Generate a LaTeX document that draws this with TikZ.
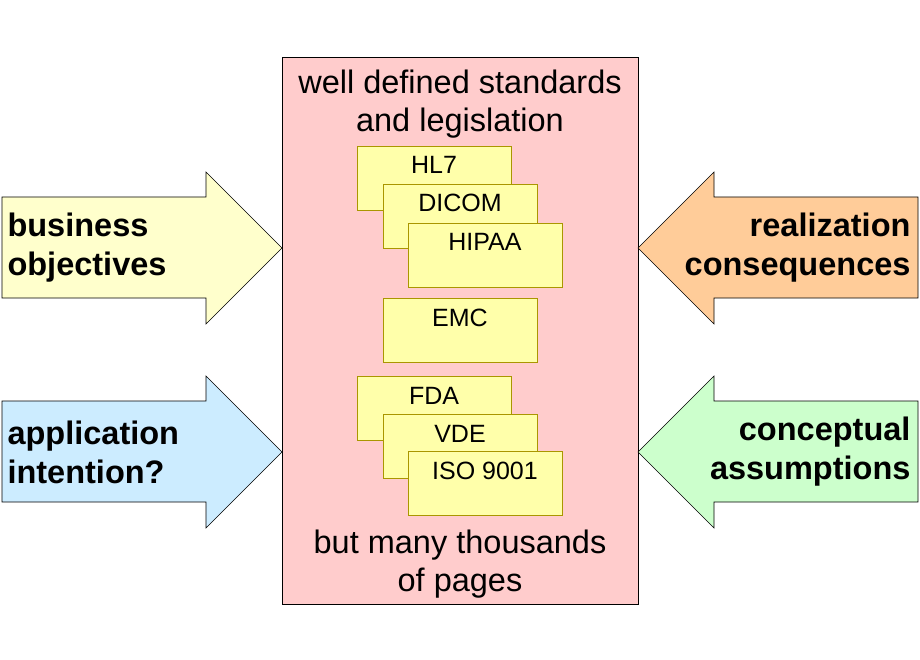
\documentclass[tikz,border=0pt]{standalone}
\usepackage{fontspec}
\setmainfont{Liberation Sans}
\usepackage{tikz}

\definecolor{stdpink}{RGB}{255,204,204}
\definecolor{docyellow}{RGB}{255,255,170}
\definecolor{docedge}{RGB}{170,150,0}
\definecolor{bizyellow}{RGB}{255,255,204}
\definecolor{appblue}{RGB}{204,236,255}
\definecolor{realorange}{RGB}{255,204,153}
\definecolor{conceptgreen}{RGB}{204,255,204}

\begin{document}
\begin{tikzpicture}[
    x=1pt, y=-1pt,
    doc/.style={
        draw=docedge,
        fill=docyellow,
        line width=0.6pt
    },
    doclabel/.style={
        font=\fontsize{25}{28}\selectfont,
        anchor=base
    },
    bigarrow/.style={
        draw=black,
        line width=0.6pt
    },
    arrowtext/.style={
        font=\fontsize{32.5}{39}\selectfont\bfseries,
        align=left
    },
    stdtext/.style={
        font=\fontsize{32.5}{38}\selectfont,
        align=center
    }
]
\useasboundingbox (0,0) rectangle (920,660);

% Standards block
\draw[fill=stdpink, line width=0.6pt] (282,57) rectangle (638,604);
\node[stdtext] (title) at (460,104) {well defined standards\\and legislation};
\node[stdtext] (pages) at (460,564) {but many thousands\\of pages};

% Documents
\foreach \name/\xa/\ya/\txt in {hl7/357/146/HL7, dicom/383/184/DICOM, hipaa/408/223/HIPAA,
                               emc/383/298/EMC,
                               fda/357/376/FDA, vde/383/414/VDE, iso/408/451/ISO 9001} {
    \draw[doc] (\xa,\ya) rectangle ++(154,64);
    \node[doclabel] (\name) at ({\xa+77},{\ya+28}) {\txt};
}

% Side arrows
\draw[bigarrow, fill=bizyellow] (2,197) -- (206,197) -- (206,172) -- (282,248) -- (206,324) -- (206,298) -- (2,298) -- cycle;
\draw[bigarrow, fill=appblue] (2,401) -- (206,401) -- (206,376) -- (282,452) -- (206,528) -- (206,502) -- (2,502) -- cycle;
\draw[bigarrow, fill=realorange] (918,197) -- (714,197) -- (714,172) -- (638,248) -- (714,324) -- (714,298) -- (918,298) -- cycle;
\draw[bigarrow, fill=conceptgreen] (918,401) -- (714,401) -- (714,376) -- (638,452) -- (714,528) -- (714,502) -- (918,502) -- cycle;

\node[arrowtext, anchor=west] (business) at (4,248) {business\\objectives};
\node[arrowtext, anchor=west] (application) at (4,452) {application\\intention?};
\node[arrowtext, anchor=east, align=right] (realization) at (914,248) {realization\\consequences};
\node[arrowtext, anchor=east, align=right] (conceptual) at (914,452) {conceptual\\assumptions};
\end{tikzpicture}
\end{document}
